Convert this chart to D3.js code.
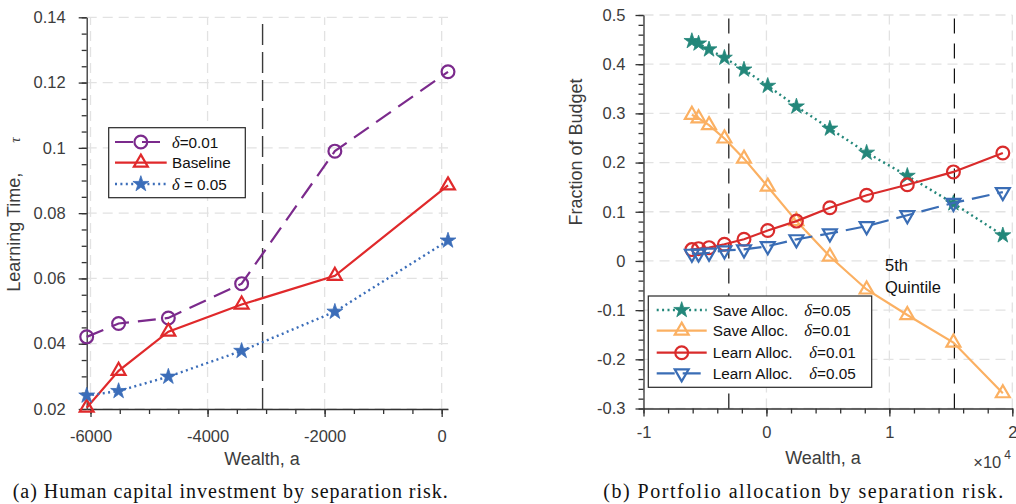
<!DOCTYPE html>
<html>
<head>
<meta charset="utf-8">
<script src="https://cdn.jsdelivr.net/npm/d3@7"></script>
<style>
  body { margin: 0; background: #fff; }
  svg { display: block; font-family: "Liberation Sans", Arial, sans-serif; }
</style>
</head>
<body>
<svg id="chart" width="1016" height="504"></svg>
<script>
// ---- panel (a): learning time by wealth
const wealthA = [-6065, -5520, -4670, -3418, -1825, 108];
const tauDelta01 = [0.0421, 0.0462, 0.0479, 0.0584, 0.0990, 0.1233];
const tauBaseline = [0.0204, 0.0317, 0.0437, 0.0520, 0.0608, 0.0885];
const tauDelta05 = [0.0241, 0.0255, 0.0299, 0.0378, 0.0498, 0.0716];
const xTicksA = [-6000, -4000, -2000, 0];
const xLabelsA = ["-6000", "-4000", "-2000", "0"];
const yTicksA = [0.02, 0.04, 0.06, 0.08, 0.1, 0.12, 0.14];
const yLabelsA = ["0.02", "0.04", "0.06", "0.08", "0.1", "0.12", "0.14"];
const cutoffA = -3060;

// ---- panel (b): portfolio allocation by wealth
const wealthB = [-6065, -5520, -4670, -3418, -1825, 108, 2440, 5160, 8150, 11460, 15210, 19230];
const saveDelta05 = [0.447, 0.442, 0.430, 0.413, 0.389, 0.356, 0.314, 0.269, 0.220, 0.173, 0.117, 0.052];
const saveDelta01 = [0.297, 0.290, 0.276, 0.249, 0.208, 0.151, 0.081, 0.009, -0.058, -0.110, -0.166, -0.269];
const learnDelta01 = [0.023, 0.025, 0.027, 0.034, 0.044, 0.062, 0.081, 0.108, 0.1335, 0.155, 0.181, 0.2195];
const learnDelta05 = [0.0146, 0.015, 0.0167, 0.0213, 0.0234, 0.030, 0.044, 0.056, 0.0707, 0.093, 0.118, 0.140];
const xTicksB = [-10000, 0, 10000, 20000];
const xLabelsB = ["-1", "0", "1", "2"];
const yTicksB = [-0.3, -0.2, -0.1, 0, 0.1, 0.2, 0.3, 0.4, 0.5];
const yLabelsB = ["-0.3", "-0.2", "-0.1", "0", "0.1", "0.2", "0.3", "0.4", "0.5"];
const cutoffsB = [-3060, 15290];

const svg = d3.select("#chart");
const axisColor = "#333";
const gridColor = "#e2e2e2";
const sansFont = "'Liberation Sans', Arial, Helvetica, sans-serif";
const serifFont = "'Liberation Serif', 'Times New Roman', serif";

function fix(v) { return Math.round(v * 1e6) / 1e6; }

function drawAxes(g, x, y, o) {
  // grid
  const grid = g.append("g");
  grid.selectAll("line.gx").data(o.xTicks).enter().append("line")
    .attr("x1", d => x(d)).attr("x2", d => x(d))
    .attr("y1", y.range()[0]).attr("y2", y.range()[1])
    .attr("stroke", gridColor).attr("stroke-width", 1.3).attr("stroke-dasharray", "10,6");
  grid.selectAll("line.gy").data(o.yTicks).enter().append("line")
    .attr("y1", d => y(d)).attr("y2", d => y(d))
    .attr("x1", x.range()[0]).attr("x2", x.range()[1])
    .attr("stroke", gridColor).attr("stroke-width", 1.3).attr("stroke-dasharray", "10,6");

  const h = y.range()[0];
  // minor ticks
  g.append("g").attr("transform", "translate(0," + h + ")")
    .call(d3.axisBottom(x).tickValues(o.xMinor).tickSize(5).tickSizeOuter(0).tickFormat(""))
    .call(s => s.select(".domain").remove());
  g.append("g").attr("transform", "translate(" + x.range()[0] + ",0)")
    .call(d3.axisLeft(y).tickValues(o.yMinor).tickSize(5).tickSizeOuter(0).tickFormat(""))
    .call(s => s.select(".domain").remove());

  const xa = g.append("g").attr("transform", "translate(0," + h + ")")
    .call(d3.axisBottom(x).tickValues(o.xTicks).tickSize(8).tickSizeOuter(0)
      .tickPadding(o.xPad).tickFormat((d, i) => o.xLabels[i]));
  const ya = g.append("g").attr("transform", "translate(" + x.range()[0] + ",0)")
    .call(d3.axisLeft(y).tickValues(o.yTicks).tickSize(8).tickSizeOuter(0)
      .tickPadding(o.yPad).tickFormat((d, i) => o.yLabels[i]));
  [xa, ya].forEach(a => {
    a.attr("font-family", sansFont).attr("font-size", null);
    a.selectAll("path, line").attr("stroke", axisColor).attr("stroke-width", 1.3);
    a.selectAll("text").attr("fill", "#3c3c3c").style("font-size", "16.5px");
  });
  g.selectAll(".tick line").attr("stroke", axisColor).attr("stroke-width", 1.3);
}

function marker(sel, type, color, size) {
  if (type === "circle") {
    sel.append("circle").attr("r", 6.4).attr("fill", "none")
      .attr("stroke", color).attr("stroke-width", 2.2);
  } else if (type === "star") {
    sel.append("path").attr("d", d3.symbol().type(d3.symbolStar).size(size || 78)())
      .attr("fill", color).attr("stroke", color).attr("stroke-width", 0.8);
  } else {
    sel.append("path").attr("d", d3.symbol().type(d3.symbolTriangle).size(84)())
      .attr("transform", type === "down" ? "rotate(180)" : null)
      .attr("fill", "none").attr("stroke", color).attr("stroke-width", 2.2);
  }
}

function drawSeries(g, x, y, xs, ys, s) {
  const pts = xs.map((v, i) => [v, ys[i]]);
  g.append("path").datum(pts)
    .attr("d", d3.line().x(d => x(d[0])).y(d => y(d[1])))
    .attr("fill", "none").attr("stroke", s.color).attr("stroke-width", s.width || 2.2)
    .attr("stroke-dasharray", s.dash).attr("stroke-linecap", s.cap || "butt");
  g.selectAll(null).data(pts).enter().append("g")
    .attr("transform", d => "translate(" + x(d[0]) + "," + y(d[1]) + ")")
    .each(function () { marker(d3.select(this), s.marker, s.color); });
}

function legend(g, box, rows) {
  g.append("rect").attr("x", box.x).attr("y", box.y).attr("width", box.w).attr("height", box.h)
    .attr("fill", "#fff").attr("stroke", "#262626").attr("stroke-width", 1.2);
  rows.forEach((r, i) => {
    const yy = box.rowY[i];
    g.append("line").attr("x1", box.lx0).attr("x2", box.lx1).attr("y1", yy).attr("y2", yy)
      .attr("stroke", r.color).attr("stroke-width", r.width || 2.2)
      .attr("stroke-dasharray", r.dash).attr("stroke-linecap", r.cap || "butt");
    marker(g.append("g").attr("transform", "translate(" + ((box.lx0 + box.lx1) / 2) + "," + yy + ")"),
      r.marker, r.color);
    const t = g.append("text").attr("x", box.tx).attr("y", yy + 5.5)
      .style("font-family", sansFont).style("font-size", "15.3px").attr("fill", "#111");
    r.parts.forEach(p => {
      const ts = t.append("tspan").text(p.t);
      if (p.x) ts.attr("x", p.x);
      if (p.greek) ts.style("font-family", serifFont).style("font-style", "italic").style("font-size", "16.5px");
    });
  });
}

// ================= panel (a)
const gA = svg.append("g");
const xA = d3.scaleLinear().domain([-6065, 108]).range([86.7, 448]);
const yA = d3.scaleLinear().domain([0.02, 0.14]).range([409, 17.3]);
drawAxes(gA, xA, yA, {
  xTicks: xTicksA, xLabels: xLabelsA, yTicks: yTicksA, yLabels: yLabelsA,
  xMinor: d3.range(-6000, 1, 500), yMinor: d3.range(0, 25).map(i => fix(0.02 + i * 0.005)),
  xPad: 13, yPad: 13
});
gA.append("line").attr("x1", xA(cutoffA)).attr("x2", xA(cutoffA))
  .attr("y1", yA.range()[0]).attr("y2", yA.range()[1])
  .attr("stroke", "#3a3a3a").attr("stroke-width", 1.4).attr("stroke-dasharray", "21,7");

const sA = [
  { ys: tauDelta01, color: "#7b2a8c", dash: "18,9", marker: "circle" },
  { ys: tauBaseline, color: "#e0292b", dash: null, marker: "up" },
  { ys: tauDelta05, color: "#3b6db9", dash: "2,3.4", marker: "star", width: 2.4 }
];
sA.forEach(s => drawSeries(gA, xA, yA, wealthA, s.ys, s));

legend(gA, { x: 108.7, y: 127.7, w: 136.6, h: 70, rowY: [142, 162.7, 184], lx0: 115, lx1: 166.7, tx: 172 }, [
  Object.assign({}, sA[0], { parts: [{ t: "δ", greek: true }, { t: "=0.01" }] }),
  Object.assign({}, sA[1], { parts: [{ t: "Baseline" }] }),
  Object.assign({}, sA[2], { parts: [{ t: "δ", greek: true }, { t: " = 0.05" }] })
]);

gA.append("text").attr("transform", "translate(20,291.7) rotate(-90)")
  .style("font-family", sansFont).style("font-size", "18px").attr("fill", "#3c3c3c").text("Learning Time,");
gA.append("text").attr("transform", "translate(19.5,140) rotate(-90)")
  .attr("text-anchor", "middle").style("font-size", "15px").style("font-style", "italic")
  .style("font-family", serifFont).attr("fill", "#3c3c3c").text("τ");
gA.append("text").attr("x", 262).attr("y", 465).attr("text-anchor", "middle")
  .style("font-family", sansFont).style("font-size", "18px").attr("fill", "#3c3c3c").text("Wealth, a");
gA.append("text").attr("x", 12.7).attr("y", 498).attr("textLength", 435).attr("lengthAdjust", "spacing")
  .style("font-family", serifFont).style("font-size", "20px").attr("fill", "#111")
  .text("(a) Human capital investment by separation risk.");

// ================= panel (b)
const gB = svg.append("g");
const xB = d3.scaleLinear().domain([-10000, 20000]).range([643.5, 1012.3]);
const yB = d3.scaleLinear().domain([-0.3, 0.5]).range([408.5, 15]);
drawAxes(gB, xB, yB, {
  xTicks: xTicksB, xLabels: xLabelsB, yTicks: yTicksB, yLabels: yLabelsB,
  xMinor: d3.range(-10000, 20001, 2000), yMinor: d3.range(0, 41).map(i => fix(-0.3 + i * 0.02)),
  xPad: 10, yPad: 10
});
gB.selectAll(null).data(cutoffsB).enter().append("line")
  .attr("x1", d => xB(d)).attr("x2", d => xB(d))
  .attr("y1", yB.range()[0]).attr("y2", yB.range()[1])
  .attr("stroke", "#111").attr("stroke-width", 1.2).attr("stroke-dasharray", "15,10");

const sB = [
  { ys: saveDelta05, color: "#23877a", dash: "2,3.4", marker: "star", width: 2.4 },
  { ys: saveDelta01, color: "#fbb062", dash: null, marker: "up" },
  { ys: learnDelta01, color: "#d92b2b", dash: null, marker: "circle" },
  { ys: learnDelta05, color: "#3a6db5", dash: "18,8", marker: "down" }
];
sB.forEach(s => drawSeries(gB, xB, yB, wealthB, s.ys, s));

gB.append("text").attr("x", 885).attr("y", 271).style("font-family", sansFont)
  .style("font-size", "16.5px").attr("fill", "#111").text("5th");
gB.append("text").attr("x", 885).attr("y", 292.7).style("font-family", sansFont)
  .style("font-size", "16.5px").attr("fill", "#111").text("Quintile");

legend(gB, { x: 648.3, y: 296, w: 223.4, h: 91.3, rowY: [310, 330.7, 352.7, 373.3], lx0: 656.7, lx1: 706.7, tx: 712.7 }, [
  Object.assign({}, sB[0], { parts: [{ t: "Save Alloc." }, { t: "δ", greek: true, x: 804.3 }, { t: "=0.05" }] }),
  Object.assign({}, sB[1], { parts: [{ t: "Save Alloc." }, { t: "δ", greek: true, x: 804.3 }, { t: "=0.01" }] }),
  Object.assign({}, sB[2], { parts: [{ t: "Learn Alloc." }, { t: "δ", greek: true, x: 809.3 }, { t: "=0.01" }] }),
  Object.assign({}, sB[3], { parts: [{ t: "Learn Alloc." }, { t: "δ", greek: true, x: 809.3 }, { t: "=0.05" }] })
]);

gB.append("text").attr("transform", "translate(582,152) rotate(-90)").attr("text-anchor", "middle")
  .style("font-family", sansFont).style("font-size", "18px").attr("fill", "#3c3c3c").text("Fraction of Budget");
gB.append("text").attr("x", 823).attr("y", 464).attr("text-anchor", "middle")
  .style("font-family", sansFont).style("font-size", "18px").attr("fill", "#3c3c3c").text("Wealth, a");
const exp = gB.append("text").attr("x", 1011).attr("y", 468).attr("text-anchor", "end")
  .style("font-family", sansFont).style("font-size", "16.5px").attr("fill", "#3c3c3c");
exp.append("tspan").text("×10");
exp.append("tspan").attr("dy", -9).attr("dx", 3).style("font-size", "12px").text("4");
gB.append("text").attr("x", 603.3).attr("y", 498).attr("textLength", 400).attr("lengthAdjust", "spacing")
  .style("font-family", serifFont).style("font-size", "20px").attr("fill", "#111")
  .text("(b) Portfolio allocation by separation risk.");
</script>
</body>
</html>
